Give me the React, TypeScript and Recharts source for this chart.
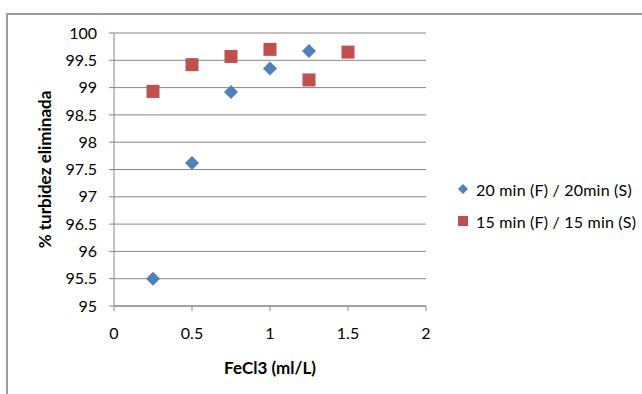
import React from "react";
import {
  ScatterChart,
  Scatter,
  XAxis,
  YAxis,
  CartesianGrid,
  Legend,
} from "recharts";

// FeCl3 doses (ml/L)
const doses20 = [0.25, 0.5, 0.75, 1.0, 1.25];
const doses15 = [0.25, 0.5, 0.75, 1.0, 1.25, 1.5];

// % turbidity removed
const removal20 = [95.5, 97.62, 98.92, 99.35, 99.67];
const removal15 = [98.93, 99.42, 99.57, 99.7, 99.14, 99.65];

const xTicks = [0, 0.5, 1, 1.5, 2];
const yTicks = [95, 95.5, 96, 96.5, 97, 97.5, 98, 98.5, 99, 99.5, 100];

const name20 = "20 min (F) / 20min (S)";
const name15 = "15 min (F) / 15 min (S)";

const BLUE = "#4F81BD";
const RED = "#C0504D";
const GRID = "#868686";
const FONT = "Lato, 'Liberation Sans', sans-serif";

const data20 = doses20.map((x, i) => ({ x, y: removal20[i] }));
const data15 = doses15.map((x, i) => ({ x, y: removal15[i] }));

const Diamond = (props: any) => {
  const { cx, cy } = props;
  const r = 7;
  return (
    <path
      d={`M${cx},${cy - r}L${cx + r},${cy}L${cx},${cy + r}L${cx - r},${cy}Z`}
      fill={BLUE}
    />
  );
};

const Square = (props: any) => {
  const { cx, cy } = props;
  const s = 13;
  return <rect x={cx - s / 2} y={cy - s / 2} width={s} height={s} fill={RED} />;
};

const renderLegend = () => (
  <div
    style={{
      fontFamily: FONT,
      fontSize: 16,
      letterSpacing: 0.2,
      color: "#000",
      whiteSpace: "nowrap",
    }}
  >
    <div style={{ display: "flex", alignItems: "center", height: 20 }}>
      <svg width={16} height={16} style={{ marginRight: 5 }}>
        <path d="M8,3L13,8L8,13L3,8Z" fill={BLUE} />
      </svg>
      <span>{name20}</span>
    </div>
    <div style={{ display: "flex", alignItems: "center", height: 20, marginTop: 12 }}>
      <svg width={16} height={16} style={{ marginRight: 5 }}>
        <rect x={3} y={3} width={10} height={10} fill={RED} />
      </svg>
      <span>{name15}</span>
    </div>
  </div>
);

const tickStyle = { fontFamily: FONT, fontSize: 16, fill: "#000" };
const titleStyle = { fontFamily: FONT, fontSize: 17, fontWeight: 700, fill: "#000" };

export default function App() {
  return (
    <div
      style={{
        position: "fixed",
        left: 0,
        top: 0,
        width: 642,
        height: 394,
        overflow: "hidden",
        background: "#fff",
      }}
    >
      <div
        style={{
          position: "absolute",
          left: 6,
          top: 13,
          width: 700,
          height: 500,
          border: "2px solid #9c9c9c",
        }}
      />
      <ScatterChart
        width={642}
        height={394}
        margin={{ top: 33, right: 216, bottom: 28, left: 0 }}
        style={{ position: "absolute", left: 0, top: 0 }}
      >
        <CartesianGrid horizontal vertical={false} stroke={GRID} strokeWidth={1} />
        <XAxis
          type="number"
          dataKey="x"
          domain={[0, 2]}
          ticks={xTicks}
          height={60}
          tickSize={5}
          tickMargin={17}
          stroke={GRID}
          tick={tickStyle}
          tickLine={{ stroke: GRID }}
          axisLine={{ stroke: GRID }}
          label={{
            value: "FeCl3 (ml/L)",
            position: "center",
            dy: 32,
            style: titleStyle,
          }}
        />
        <YAxis
          type="number"
          dataKey="y"
          domain={[95, 100]}
          ticks={yTicks}
          width={114}
          tickSize={5}
          tickMargin={12}
          stroke={GRID}
          tick={tickStyle}
          tickLine={{ stroke: GRID }}
          axisLine={{ stroke: GRID }}
          interval={0}
          label={{
            value: "% turbidez eliminada",
            angle: -90,
            position: "center",
            dx: -12,
            style: { ...titleStyle, textAnchor: "middle" },
          }}
        />
        <Scatter
          name={name20}
          data={data20}
          fill={BLUE}
          shape={Diamond}
          isAnimationActive={false}
        />
        <Scatter
          name={name15}
          data={data15}
          fill={RED}
          shape={Square}
          isAnimationActive={false}
        />
        <Legend
          layout="vertical"
          align="center"
          verticalAlign="middle"
          content={renderLegend}
          wrapperStyle={{ position: "absolute", left: 455, top: 179, width: 187 }}
        />
      </ScatterChart>
    </div>
  );
}
